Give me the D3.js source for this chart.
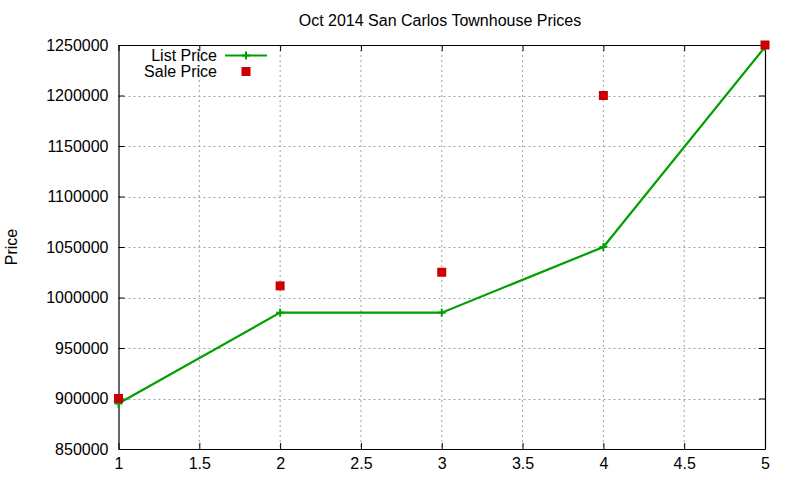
<!DOCTYPE html>
<html><head><meta charset="utf-8">
<script src="https://cdn.jsdelivr.net/npm/d3@7"></script>
<style>body{margin:0;background:#fff}text{font-family:"Liberation Sans",Arial,sans-serif}</style>
</head><body>
<svg id="c" width="800" height="480"></svg>
<script>
const xs = [1, 2, 3, 4, 5];
const listPrice = [895000, 985000, 985000, 1050000, 1248000];
const salePrice = [900000, 1011500, 1025000, 1200000, 1250000];
const xTicks = [1, 1.5, 2, 2.5, 3, 3.5, 4, 4.5, 5];
const yTicks = [850000, 900000, 950000, 1000000, 1050000, 1100000, 1150000, 1200000, 1250000];
const title = "Oct 2014 San Carlos Townhouse Prices";
const yLabel = "Price";
const seriesNames = ["List Price", "Sale Price"];

const svg = d3.select("#c");
const L = 118.5, R = 765, T = 45, B = 449;
const x = d3.scaleLinear().domain([1, 5]).range([L, R]);
const y = d3.scaleLinear().domain([850000, 1250000]).range([B, T]);
const fs = "16px";

// grid
const g = svg.append("g");
g.selectAll(".gx").data(xTicks.slice(1, -1)).join("line")
  .attr("x1", d => x(d)).attr("x2", d => x(d)).attr("y1", T).attr("y2", B)
  .attr("stroke", "#a0a0a0").attr("stroke-width", 1).attr("stroke-dasharray", "2,3");
g.selectAll(".gy").data(yTicks.slice(1, -1)).join("line")
  .attr("y1", d => Math.round(y(d)) + 0.5).attr("y2", d => Math.round(y(d)) + 0.5).attr("x1", L).attr("x2", R)
  .attr("stroke", "#a0a0a0").attr("stroke-width", 1).attr("stroke-dasharray", "2,3");

// axes
const tk = 6;
const axB = svg.append("g").attr("transform", `translate(0,${B})`)
  .call(d3.axisBottom(x).tickValues(xTicks).tickFormat(d3.format("")).tickSizeInner(-tk).tickSizeOuter(0).tickPadding(8));
const axT = svg.append("g").attr("transform", `translate(0,${T})`)
  .call(d3.axisTop(x).tickValues(xTicks).tickFormat("").tickSizeInner(-tk).tickSizeOuter(0));
const axL = svg.append("g").attr("transform", `translate(${L},0)`)
  .call(d3.axisLeft(y).tickValues(yTicks).tickFormat(d3.format("d")).tickSizeInner(-tk).tickSizeOuter(0).tickPadding(10));
const axR = svg.append("g").attr("transform", `translate(${R},0)`)
  .call(d3.axisRight(y).tickValues(yTicks).tickFormat("").tickSizeInner(-tk).tickSizeOuter(0));
[axB, axT, axL, axR].forEach(a => {
  a.selectAll("path").attr("stroke", "#000").attr("stroke-width", 1.2);
  a.selectAll("line").attr("stroke", "#000");
  a.selectAll("text").attr("fill", "#000").style("font-size", fs).style("font-family", '"Liberation Sans",Arial,sans-serif');
});
axB.selectAll("text").attr("dy", "0.71em").attr("y", 9);

// list line
const green = "#00a000", red = "#cc0000";
const line = d3.line().x((d, i) => x(xs[i])).y(d => y(d));
svg.append("path").datum(listPrice).attr("d", line)
  .attr("fill", "none").attr("stroke", green).attr("stroke-width", 2.2);
const plus = (sel, cx, cy) => {
  sel.append("line").attr("x1", cx - 4).attr("x2", cx + 4).attr("y1", cy).attr("y2", cy).attr("stroke", green).attr("stroke-width", 2);
  sel.append("line").attr("x1", cx).attr("x2", cx).attr("y1", cy - 4).attr("y2", cy + 4).attr("stroke", green).attr("stroke-width", 2);
};
const pg = svg.append("g");
listPrice.forEach((d, i) => plus(pg, x(xs[i]), y(d)));

// sale squares
svg.selectAll(".sq").data(salePrice).join("rect")
  .attr("x", (d, i) => x(xs[i]) - 4.5).attr("y", d => y(d) - 4.5)
  .attr("width", 9).attr("height", 9).attr("fill", red);

// title & label
svg.append("text").attr("x", 440).attr("y", 26).attr("text-anchor", "middle").style("font-size", fs).text(title);
svg.append("text").attr("transform", "translate(17,247) rotate(-90)").attr("text-anchor", "middle").style("font-size", fs).text(yLabel);

// legend
svg.append("text").attr("x", 217).attr("y", 61).attr("text-anchor", "end").style("font-size", fs).text(seriesNames[0]);
svg.append("line").attr("x1", 225).attr("x2", 267).attr("y1", 55.5).attr("y2", 55.5).attr("stroke", green).attr("stroke-width", 2.2);
plus(svg, 246, 55.5);
svg.append("text").attr("x", 217).attr("y", 77).attr("text-anchor", "end").style("font-size", fs).text(seriesNames[1]);
svg.append("rect").attr("x", 241.5).attr("y", 67).attr("width", 9).attr("height", 9).attr("fill", red);
</script>
</body></html>
